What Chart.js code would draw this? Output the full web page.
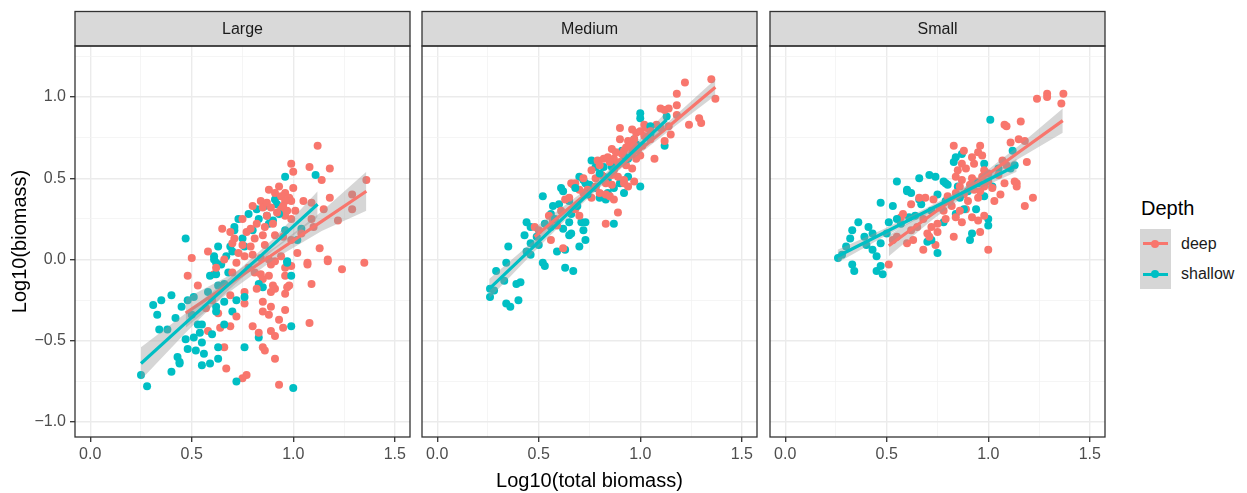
<!DOCTYPE html>
<html>
<head>
<meta charset="utf-8">
<script src="https://cdn.jsdelivr.net/npm/chart.js@4.4.1/dist/chart.umd.min.js"></script>
<style>
  body { margin: 0; background: #fff; width: 1247px; height: 493px; overflow: hidden; position: relative;
         font-family: "Liberation Sans", Arial, sans-serif; }
  .panel { position: absolute; top: 0; height: 493px; }
  .ltitle { position: absolute; left: 1141px; top: 196px; font-size: 20px; line-height: 24px; color: #000; }
  .lbox { position: absolute; left: 1140px; top: 229px; width: 31px; height: 60px; background: #D6D6D6; }
  .lline { position: absolute; left: 1143px; width: 25px; height: 3px; }
  .ldot { position: absolute; left: 1151px; width: 8px; height: 8px; border-radius: 50%; }
  .ltext { position: absolute; left: 1181px; font-size: 16px; line-height: 20px; color: #1A1A1A; }
</style>
</head>
<body>
<div class="panel" style="left:0;width:414px"><canvas id="large"></canvas></div>
<div class="panel" style="left:415px;width:346px"><canvas id="medium"></canvas></div>
<div class="panel" style="left:763px;width:346px"><canvas id="small"></canvas></div>

<div class="ltitle">Depth</div>
<div class="lbox"></div>
<div class="lline" style="top:242px;background:#F8766D"></div>
<div class="ldot" style="top:239.5px;background:#F8766D"></div>
<div class="ltext" style="top:234px">deep</div>
<div class="lline" style="top:272.5px;background:#00BFC4"></div>
<div class="ldot" style="top:270px;background:#00BFC4"></div>
<div class="ltext" style="top:264px">shallow</div>

<script>
// ---- axis ticks ----
const xMajor = [0, 0.5, 1, 1.5];
const xMajorText = ['0.0', '0.5', '1.0', '1.5'];
const xMinor = [0.25, 0.75, 1.25];
const yMajor = [-1, -0.5, 0, 0.5, 1];
const yMajorText = ['\u22121.0', '\u22120.5', '0.0', '0.5', '1.0'];
const yMinor = [-0.75, -0.25, 0.25, 0.75, 1.25];

// ---- points: [log10 total biomass, log10 biomass] ----
const largeDeep = [
  [0.48,-0.10],[0.53,-0.16],[0.61,-0.09],[0.58,-0.44],[0.64,-0.42],[0.69,-0.41],[0.63,-0.33],[0.66,-0.54],
  [0.67,-0.67],[0.69,-0.22],[0.76,-0.20],[0.76,-0.27],[0.80,-0.41],[0.75,-0.73],[0.77,-0.71],[0.85,-0.54],
  [0.86,-0.56],[0.91,-0.61],[0.93,-0.77],[0.85,-0.26],[0.85,-0.32],[0.88,-0.34],[0.89,-0.29],[0.84,-0.09],
  [0.85,-0.12],[0.88,-0.10],[0.89,-0.20],[0.91,-0.18],[0.90,-0.16],[0.89,-0.44],[0.91,-0.47],[0.95,-0.42],
  [0.93,-0.37],[0.96,-0.31],[0.96,-0.21],[0.97,-0.17],[0.98,-0.16],[0.96,-0.10],[0.96,-0.05],[0.99,-0.04],
  [0.89,-0.03],[1.08,-0.39],[1.09,-0.15],[1.07,-0.03],[1.17,-0.01],[1.24,-0.06],[1.35,-0.02],
  [1.12,0.70],[0.99,0.59],[1.00,0.54],[1.08,0.57],[1.18,0.56],[1.14,0.49],[1.36,0.49],[0.88,0.43],
  [0.96,0.41],[1.00,0.44],[0.94,0.39],[0.98,0.38],[0.99,0.36],[0.96,0.36],[0.84,0.36],[0.85,0.32],
  [0.89,0.32],[0.94,0.31],[0.95,0.33],[1.05,0.36],[1.09,0.35],[1.18,0.38],[1.29,0.40],[1.15,0.31],
  [1.29,0.31],[1.22,0.24],[0.90,0.22],[0.96,0.27],[0.99,0.25],[1.09,0.25],[1.10,0.20],[0.65,0.19],
  [0.69,0.17],[0.71,0.13],[0.77,0.17],[0.81,0.13],[0.85,0.15],[0.86,0.09],[0.91,0.15],[0.95,0.14],
  [0.99,0.12],[1.04,0.16],[1.13,0.07],[1.02,0.04],[0.50,0.01],[1.17,0.00],[1.07,-0.02],[0.73,0.04],
  [0.76,0.02],[0.80,0.03],[0.84,0.01],[0.88,0.00],[0.91,-0.01],[0.94,0.02],[0.75,0.09],[0.79,0.08],
  [0.58,0.05],[0.62,-0.05],[0.66,0.00],[0.70,-0.08],[0.72,-0.02],[0.60,-0.25],[0.72,-0.35],[0.78,-0.05],
  [0.82,-0.18],[0.83,-0.45],[0.57,-0.30],[0.82,0.22],[0.87,0.27],[0.92,0.29],[0.79,0.19],
  [0.87,0.35],[0.91,0.41],[0.93,0.45],[0.97,0.30],[1.01,0.30],[0.80,0.33],[0.86,0.20],[0.75,0.25],
  [0.70,0.10],[0.81,-0.08]
];
const largeShallow = [
  [0.25,-0.71],[0.28,-0.78],[0.40,-0.69],[0.43,-0.60],[0.44,-0.64],[0.44,-0.63],[0.47,-0.49],[0.48,-0.55],
  [0.52,-0.56],[0.55,-0.65],[0.56,-0.58],[0.55,-0.51],[0.51,-0.48],[0.54,-0.45],[0.55,-0.40],[0.53,-0.40],
  [0.60,-0.46],[0.59,-0.64],[0.63,-0.61],[0.63,-0.54],[0.34,-0.43],[0.38,-0.43],[0.31,-0.28],[0.33,-0.34],
  [0.35,-0.25],[0.40,-0.22],[0.45,-0.29],[0.48,-0.25],[0.51,-0.23],[0.59,-0.10],[0.62,-0.09],[0.63,-0.16],
  [0.66,-0.15],[0.68,-0.08],[0.62,-0.29],[0.62,-0.32],[0.66,-0.26],[0.70,-0.32],[0.72,-0.25],[0.76,-0.23],
  [0.76,-0.54],[0.72,-0.75],[0.83,-0.48],[0.83,-0.15],[0.85,-0.17],[0.99,-0.10],[0.99,-0.41],[1.00,-0.79],
  [0.97,-0.02],[0.61,0.00],[0.62,-0.02],[0.645,-0.03],
  [0.96,0.51],[1.11,0.52],[0.91,0.37],[0.92,0.34],[0.82,0.31],[0.86,0.33],[0.73,0.25],[0.83,0.25],
  [0.87,0.27],[0.90,0.24],[0.88,0.22],[0.71,0.20],[0.71,0.18],[0.47,0.13],[0.63,0.08],[0.69,0.08],
  [0.70,0.05],[0.76,0.08],[0.61,0.02],[0.67,0.02],[0.97,-0.01],[0.96,0.18],[1.04,0.19],[1.02,0.12],
  [0.78,0.28],[0.80,0.18],[0.75,0.13],[0.93,0.28],[0.58,-0.20],[0.66,-0.40],[0.42,-0.36],[0.50,-0.34]
];
const mediumDeep = [
  [1.35,1.11],[1.22,1.09],[1.37,0.99],[1.18,1.02],[1.10,0.93],[1.12,0.92],[1.14,0.93],[1.18,0.95],
  [1.18,0.89],[1.24,0.83],[1.29,0.87],[1.30,0.84],[1.08,0.83],[1.10,0.81],[1.14,0.82],[1.15,0.77],
  [0.90,0.81],[1.02,0.83],[1.03,0.81],[0.96,0.80],[0.98,0.78],[1.00,0.79],[0.90,0.74],[0.94,0.73],
  [0.97,0.74],[1.12,0.73],[0.86,0.68],[1.07,0.62],[0.91,0.65],[0.92,0.67],[0.96,0.66],[0.98,0.62],
  [1.00,0.64],[0.79,0.61],[0.82,0.62],[0.84,0.63],[0.87,0.62],[0.66,0.47],[0.68,0.47],[0.87,0.55],
  [0.89,0.51],[0.92,0.49],[0.94,0.45],[0.97,0.48],[0.83,0.47],[0.86,0.46],
  [0.67,0.46],[0.70,0.43],[0.65,0.38],[0.63,0.37],[0.80,0.41],[0.83,0.40],[0.85,0.39],[0.87,0.37],
  [0.92,0.47],[0.89,0.29],[0.83,0.22],[0.68,0.31],[0.70,0.27],[0.57,0.24],[0.59,0.21],[0.48,0.20],
  [0.56,0.12],[0.62,0.07],[0.78,0.50],[0.74,0.43],[0.81,0.52],[0.88,0.58],[0.95,0.70],[1.05,0.74],
  [1.01,0.70],[0.93,0.58],[0.76,0.38],[0.61,0.30],[0.55,0.27],[0.50,0.18],
  [0.72,0.50],[0.76,0.55],[0.80,0.58],[0.85,0.60],[0.88,0.66],[0.90,0.60],[0.93,0.69],[0.97,0.70],
  [1.02,0.76],[1.05,0.79],[0.86,0.52],[0.78,0.45],[0.72,0.41],[0.96,0.56],[0.99,0.68]
];
const mediumShallow = [
  [1.00,0.90],[1.00,0.87],[1.13,0.88],[0.97,0.74],[0.98,0.71],[1.05,0.77],[1.12,0.70],[0.91,0.67],
  [0.92,0.64],[0.76,0.61],[0.78,0.57],[0.70,0.51],[0.72,0.49],[0.82,0.57],[0.82,0.51],[0.84,0.49],
  [0.94,0.51],[1.00,0.45],[0.61,0.44],[0.92,0.41],[0.87,0.44],[0.90,0.47],[0.73,0.47],[0.75,0.46],
  [0.78,0.44],[0.80,0.38],[0.83,0.37],[0.84,0.41],[0.62,0.42],[0.52,0.39],[0.60,0.34],[0.65,0.36],
  [0.66,0.28],[0.56,0.28],[0.44,0.23],[0.46,0.20],[0.53,0.22],[0.56,0.20],[0.62,0.19],[0.65,0.23],
  [0.71,0.23],[0.73,0.23],[0.72,0.18],[0.66,0.16],[0.65,0.15],[0.87,0.22],[0.43,0.15],[0.35,0.08],
  [0.46,0.10],[0.50,0.09],[0.73,0.12],[0.70,0.08],[0.44,0.05],[0.46,0.03],[0.59,0.05],[0.63,0.06],
  [0.52,-0.02],[0.53,-0.04],[0.29,-0.07],[0.34,-0.02],[0.63,-0.05],[0.67,-0.07],[0.26,-0.18],[0.28,-0.19],
  [0.26,-0.23],[0.33,-0.13],[0.39,-0.15],[0.41,-0.14],[0.34,-0.27],[0.36,-0.29],[0.40,-0.25],
  [0.80,0.53],[0.86,0.57],[0.74,0.40],[0.69,0.33],[0.58,0.25],[0.49,0.14],[0.94,0.62],[1.05,0.82],
  [0.68,0.44],[0.57,0.33]
];
const smallDeep = [
  [1.37,1.02],[1.29,1.02],[1.29,1.00],[1.24,0.99],[1.36,0.96],[1.08,0.83],[1.09,0.82],[1.16,0.85],
  [1.11,0.72],[1.15,0.74],[1.18,0.73],[1.19,0.60],[0.83,0.70],[0.96,0.70],[0.95,0.66],[0.97,0.64],
  [0.88,0.67],[0.92,0.63],[0.93,0.59],[0.87,0.59],[0.89,0.56],[0.85,0.55],[0.98,0.55],[1.00,0.53],
  [0.97,0.51],[0.84,0.51],[0.87,0.49],[0.92,0.50],[0.94,0.48],[1.07,0.61],[1.09,0.58],[1.14,0.47],
  [1.14,0.45],[1.08,0.47],[1.00,0.06],[0.51,-0.03],[0.68,0.06],[0.63,0.12],[0.74,0.09],[0.83,0.14],
  [0.96,0.17],[1.18,0.33],[1.22,0.38],[1.13,0.48],[1.03,0.36],[0.89,0.31],[0.92,0.26],[0.95,0.24],
  [0.98,0.27],[0.84,0.26],[0.87,0.23],[0.72,0.20],[0.75,0.22],[0.75,0.17],[0.70,0.16],[0.71,0.14],
  [0.58,0.28],[0.57,0.26],[0.62,0.34],[0.66,0.38],[0.69,0.38],[0.73,0.37],[0.80,0.39],[0.84,0.41],
  [0.88,0.40],[0.93,0.43],[0.98,0.45],[0.53,0.12],[0.55,0.14],[0.78,0.30],[0.82,0.33],[0.90,0.36],
  [0.79,0.25],[0.65,0.20],[0.60,0.10],[0.95,0.38],[1.05,0.52],[1.02,0.44],
  [0.86,0.45],[0.91,0.46],[0.96,0.42],[1.00,0.48],[0.81,0.36],[0.76,0.32],[0.86,0.30],[1.06,0.40],
  [0.68,0.25],[0.62,0.18]
];
const smallShallow = [
  [1.01,0.86],[1.12,0.67],[0.84,0.63],[0.87,0.65],[0.83,0.60],[0.98,0.59],[1.13,0.58],[1.11,0.56],
  [1.05,0.56],[0.71,0.52],[0.74,0.51],[0.66,0.50],[0.55,0.48],[0.60,0.43],[0.79,0.47],[1.02,0.45],
  [0.60,0.42],[0.62,0.41],[0.47,0.35],[0.53,0.33],[0.36,0.23],[0.41,0.20],[0.33,0.18],[0.32,0.13],
  [0.39,0.14],[0.43,0.16],[0.47,0.10],[0.51,0.23],[0.43,0.06],[0.45,0.02],[0.26,0.01],[0.28,0.03],
  [0.33,-0.03],[0.34,-0.07],[0.45,-0.07],[0.47,-0.04],[0.48,-0.09],[0.75,0.04],[0.70,0.11],[0.72,0.12],
  [0.91,0.12],[0.92,0.16],[1.00,0.21],[1.00,0.25],[0.98,0.39],[0.75,0.40],[0.79,0.36],[0.84,0.28],
  [0.88,0.31],[0.94,0.31],[0.78,0.23],[0.66,0.37],[0.67,0.34],[0.61,0.26],[0.64,0.27],[0.57,0.22],
  [0.78,0.48],[0.80,0.46],
  [0.85,0.45],[0.90,0.42],[0.95,0.47],[0.72,0.30],[0.55,0.25],[0.50,0.16],[0.40,0.09],[0.30,0.08],
  [0.86,0.38]
];

// ---- linear fits: [x, fit, lower, upper] ----
const largeDeepFit = [[0.47,-0.33,-0.42,-0.24],[0.69,-0.145,-0.195,-0.095],[0.915,0.045,0.01,0.08],[1.14,0.235,0.175,0.295],[1.36,0.42,0.30,0.54]];
const largeShallowFit = [[0.25,-0.64,-0.74,-0.54],[0.47,-0.39,-0.45,-0.33],[0.685,-0.15,-0.185,-0.115],[0.90,0.09,0.055,0.125],[1.12,0.34,0.26,0.42]];
const mediumDeepFit = [[0.48,0.14,0.085,0.195],[0.70,0.37,0.34,0.40],[0.925,0.60,0.58,0.62],[1.15,0.83,0.80,0.86],[1.37,1.06,1.01,1.11]];
const mediumShallowFit = [[0.256,-0.18,-0.24,-0.12],[0.475,0.08,0.045,0.115],[0.69,0.34,0.315,0.365],[0.91,0.60,0.57,0.63],[1.13,0.86,0.81,0.91]];
const smallDeepFit = [[0.51,0.085,0.02,0.15],[0.725,0.28,0.245,0.315],[0.94,0.47,0.445,0.495],[1.15,0.66,0.62,0.70],[1.367,0.855,0.78,0.93]];
const smallShallowFit = [[0.258,0.02,-0.02,0.06],[0.48,0.16,0.135,0.185],[0.70,0.30,0.28,0.32],[0.92,0.44,0.415,0.465],[1.14,0.58,0.54,0.62]];

const deepColor = '#F8766D';
const shallowColor = '#00BFC4';
const bandColor = 'rgba(153,153,153,0.4)';
const fontFamily = '"Liberation Sans", Arial, sans-serif';

const isMajor = v => Math.abs(v * 2 - Math.round(v * 2)) < 1e-6;
const xTicks = xMajor.concat(xMinor).sort((a, b) => a - b);
const yTicks = yMajor.concat(yMinor).sort((a, b) => a - b);

// interleave the two groups so neither colour sits fully on top
function mergePoints(deep, shallow) {
  const pts = [], cols = [];
  const n = Math.max(deep.length, shallow.length);
  for (let i = 0; i < n; i++) {
    if (i < deep.length) { pts.push({ x: deep[i][0], y: deep[i][1] }); cols.push(deepColor); }
    if (i < shallow.length) { pts.push({ x: shallow[i][0], y: shallow[i][1] }); cols.push(shallowColor); }
  }
  return { pts, cols };
}

function fitSets(fit, color, baseOrder) {
  return [
    { type: 'line', data: fit.map(r => ({ x: r[0], y: r[3] })), fill: '+1', backgroundColor: bandColor,
      borderWidth: 0, pointRadius: 0, order: baseOrder + 2 },
    { type: 'line', data: fit.map(r => ({ x: r[0], y: r[2] })), fill: false,
      borderWidth: 0, pointRadius: 0, order: baseOrder + 1 },
    { type: 'line', data: fit.map(r => ({ x: r[0], y: r[1] })), fill: false, borderColor: color,
      borderWidth: 3.2, pointRadius: 0, order: baseOrder }
  ];
}

// strip on top + panel border
const facetPlugin = {
  id: 'facet',
  afterDraw(chart, args, opts) {
    const { ctx, chartArea: a } = chart;
    ctx.save();
    ctx.fillStyle = '#D9D9D9';
    ctx.fillRect(a.left, 11.5, a.right - a.left, a.top - 11.5);
    ctx.strokeStyle = '#333333';
    ctx.lineWidth = 1.3;
    ctx.strokeRect(a.left, 11.5, a.right - a.left, a.top - 11.5);
    ctx.strokeRect(a.left, a.top, a.right - a.left, a.bottom - a.top);
    ctx.fillStyle = '#1A1A1A';
    ctx.font = '16px ' + fontFamily;
    ctx.textAlign = 'center';
    ctx.textBaseline = 'middle';
    ctx.fillText(opts.label, (a.left + a.right) / 2, (11.5 + a.top) / 2 + 1);
    ctx.restore();
  }
};

function makePanel(id, label, deep, shallow, deepFit, shallowFit, opt) {
  const m = mergePoints(deep, shallow);
  const gridColor = c => (c.tick && isMajor(c.tick.value)) ? '#EBEBEB' : '#F3F3F3';
  const gridWidth = c => (c.tick && isMajor(c.tick.value)) ? 1.4 : 0.8;
  const tickColor = c => (c.tick && isMajor(c.tick.value)) ? '#333333' : 'rgba(0,0,0,0)';

  new Chart(document.getElementById(id), {
    type: 'scatter',
    data: {
      datasets: [
        ...fitSets(shallowFit, shallowColor, 1),
        ...fitSets(deepFit, deepColor, 4),
        { type: 'scatter', data: m.pts, pointBackgroundColor: m.cols, pointBorderWidth: 0,
          pointRadius: 4, pointHoverRadius: 4, order: 10 }
      ]
    },
    options: {
      responsive: true,
      maintainAspectRatio: false,
      animation: false,
      events: [],
      layout: { padding: { top: 46, left: opt.padLeft, right: 1, bottom: 0 } },
      plugins: { legend: { display: false }, tooltip: { enabled: false }, facet: { label: label } },
      scales: {
        x: {
          type: 'linear', min: -0.075, max: 1.575,
          afterBuildTicks: s => { s.ticks = xTicks.map(v => ({ value: v })); },
          afterFit: s => { s.height = 56; },
          border: { display: false },
          grid: { color: gridColor, lineWidth: gridWidth, tickLength: 5, tickColor: tickColor, tickWidth: 1.3 },
          ticks: {
            autoSkip: false, maxRotation: 0, padding: 3, color: '#4D4D4D',
            font: { size: 16, family: fontFamily },
            callback: v => { const i = xMajor.findIndex(t => Math.abs(t - v) < 1e-6); return i >= 0 ? xMajorText[i] : ''; }
          },
          title: { display: opt.xTitle, text: 'Log10(total biomass)', color: '#000',
                   font: { size: 20, family: fontFamily }, padding: { top: 0, bottom: 0 } }
        },
        y: {
          type: 'linear', min: -1.092, max: 1.314,
          afterBuildTicks: s => { s.ticks = yTicks.map(v => ({ value: v })); },
          afterFit: s => { s.width = opt.yAxis ? 75 : 0; },
          border: { display: false },
          grid: { color: gridColor, lineWidth: gridWidth, drawTicks: opt.yAxis, tickLength: 5,
                  tickColor: tickColor, tickWidth: 1.3 },
          ticks: {
            display: opt.yAxis, padding: 4, color: '#4D4D4D',
            font: { size: 16, family: fontFamily },
            callback: v => { const i = yMajor.findIndex(t => Math.abs(t - v) < 1e-6); return i >= 0 ? yMajorText[i] : ''; }
          },
          title: { display: opt.yAxis, text: 'Log10(biomass)', color: '#000',
                   font: { size: 20, family: fontFamily }, padding: { top: 8, bottom: 0 } }
        }
      }
    },
    plugins: [facetPlugin]
  });
}

makePanel('large', 'Large', largeDeep, largeShallow, largeDeepFit, largeShallowFit,
          { padLeft: 0, yAxis: true, xTitle: false });
makePanel('medium', 'Medium', mediumDeep, mediumShallow, mediumDeepFit, mediumShallowFit,
          { padLeft: 7, yAxis: false, xTitle: true });
makePanel('small', 'Small', smallDeep, smallShallow, smallDeepFit, smallShallowFit,
          { padLeft: 7, yAxis: false, xTitle: false });
</script>
</body>
</html>
